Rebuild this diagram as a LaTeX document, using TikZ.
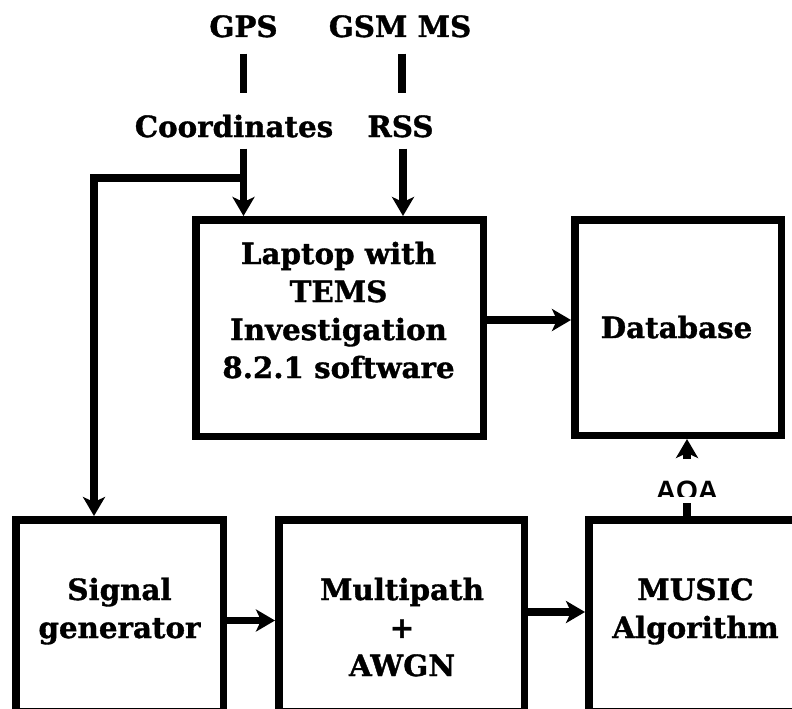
\documentclass[tikz,border=0pt]{standalone}
\usepackage{fontspec}
\setmainfont{DejaVu Serif}[BoldFeatures={FakeBold=1.2}]
\newfontfamily\aoafont{Liberation Sans}
\usetikzlibrary{arrows.meta}

\tikzset{
  box/.style={draw, rectangle, line width=7.5pt, inner sep=0pt, line join=miter},
  conn/.style={line width=7.5pt, line join=miter},
  flow/.style={conn, -{Stealth[length=19pt,width=22pt,inset=5pt]}},
  lbl/.style={font=\bfseries\fontsize{29.3}{38}\selectfont, align=center, inner sep=0pt, anchor=base},
  sanslbl/.style={font=\aoafont\bfseries\fontsize{28}{30}\selectfont, inner sep=0pt, anchor=base},
}

\begin{document}
\begin{tikzpicture}[x=1pt,y=-1pt]
\useasboundingbox (0,0) rectangle (792,709);

% blocks
\node[box, minimum width=287.5pt, minimum height=216.5pt] (laptop) at (339.5,328) {};
\node[box, minimum width=206.5pt, minimum height=215.5pt] (db) at (678,327.5) {};
\node[box, minimum width=207.5pt, minimum height=192.25pt] (siggen) at (119.5,615.9) {};
\node[box, minimum width=245.5pt, minimum height=192.25pt] (multi) at (401.5,615.9) {};
\node[box, minimum width=216.25pt, minimum height=192.25pt] (music) at (696.9,615.9) {};

% block texts (base anchor sits on the last line)
\node[lbl] (laptoptxt) at (338.5,378) {Laptop with\\TEMS\\Investigation\\8.2.1 software};
\node[lbl] (dbtxt) at (676.5,338) {Database};
\node[lbl] (sigtxt) at (119.5,638) {Signal\\generator};
\node[lbl] (multitxt) at (402,676) {Multipath\\+\\AWGN};
\node[lbl] (musictxt) at (695.5,638) {MUSIC\\Algorithm};

% inputs on top
\node[lbl] (gps) at (243.5,37) {GPS};
\node[lbl] (gsm) at (400,37) {GSM MS};
\node[lbl] (coord) at (234,137) {Coordinates};
\node[lbl] (rss) at (400.5,137) {RSS};

\draw[conn] ([yshift=-16pt]gps.south) -- ++(0,39);
\draw[conn] ([xshift=2pt,yshift=-16pt]gsm.south) -- ++(0,39);

\draw[flow] ([yshift=-11pt]coord.south -| gps.south) -- (gps.south |- laptop.north);
\draw[flow] ([xshift=3pt,yshift=-11pt]rss.south -| gsm.south) -- ([xshift=3pt]gsm.south |- laptop.north);

% branch of the coordinates to the signal generator
\coordinate (tap) at (243,178);
\draw[flow] (tap) -| ([xshift=-25.5pt]siggen.north);

% data flow between blocks
\draw[flow] ([yshift=8pt]laptop.east) -- ([yshift=8pt]laptop.east -| db.west);
\draw[flow] ([yshift=-4.6pt]siggen.east) -- ([yshift=-4.6pt]siggen.east -| multi.west);
\draw[flow] ([yshift=3.9pt]multi.east) -- ([yshift=3.9pt]multi.east -| music.west);

% AOA estimate back to the database
\node[inner sep=0pt, outer sep=0pt, minimum width=90pt, minimum height=44pt, fill=white,
  path picture={
    \clip (path picture bounding box.north west) rectangle ([yshift=7pt]path picture bounding box.south east);
    \node[sanslbl] at ([yshift=-19pt]path picture bounding box.center) {AOA};
  }] (aoa) at (687,481) {};
\draw[conn] ([xshift=-9.9pt]music.north) -- ([xshift=-9.9pt]music.north |- aoa.south);
\draw[flow] (aoa.north) -- (aoa.north |- db.south);
\end{tikzpicture}
\end{document}
